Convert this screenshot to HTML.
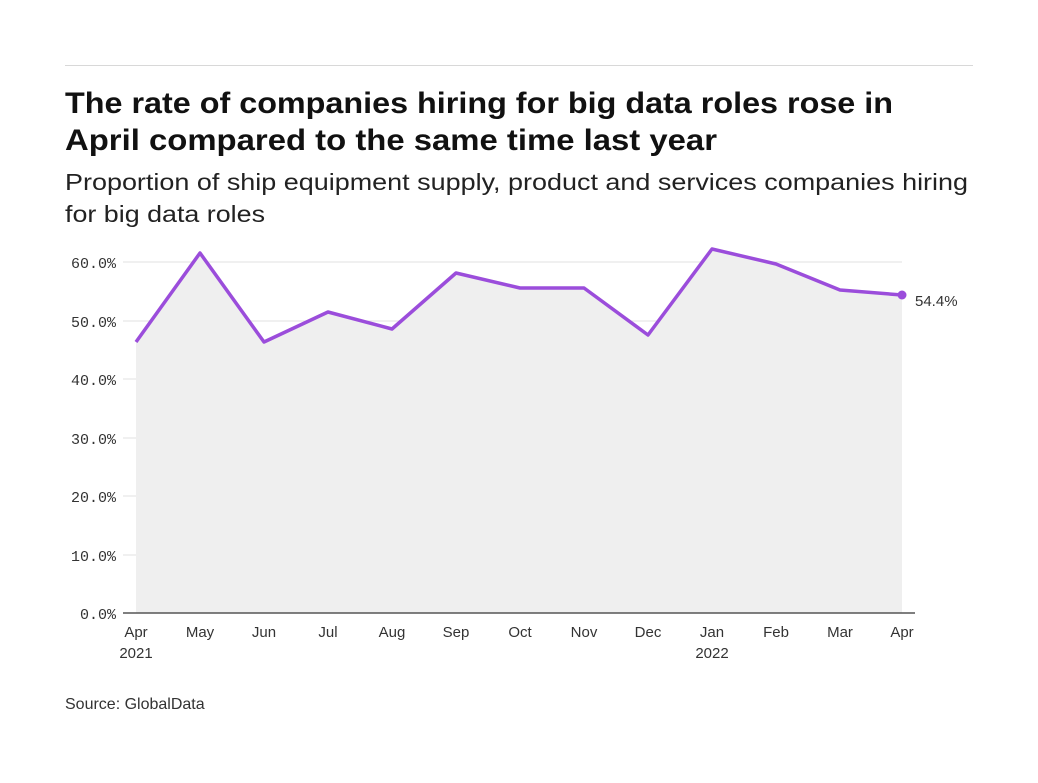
<!DOCTYPE html>
<html><head><meta charset="utf-8"><style>
body{margin:0;background:#fff;width:1038px;height:778px;overflow:hidden;font-family:"Liberation Sans",sans-serif;}
</style></head><body>
<svg width="1038" height="778" xmlns="http://www.w3.org/2000/svg">
<line x1="65" y1="65.5" x2="973" y2="65.5" stroke="#d8d8d8" stroke-width="1"/>
<text x="65" y="113" font-size="30" font-weight="bold" fill="#111" textLength="828" lengthAdjust="spacingAndGlyphs">The rate of companies hiring for big data roles rose in</text>
<text x="65" y="150" font-size="30" font-weight="bold" fill="#111" textLength="652" lengthAdjust="spacingAndGlyphs">April compared to the same time last year</text>
<text x="65" y="190" font-size="23" fill="#222" textLength="903" lengthAdjust="spacingAndGlyphs">Proportion of ship equipment supply, product and services companies hiring</text>
<text x="65" y="222" font-size="23" fill="#222" textLength="200" lengthAdjust="spacingAndGlyphs">for big data roles</text>
<g stroke="#e6e6e6" stroke-width="1.2">
<line x1="123" y1="262" x2="902" y2="262"/><line x1="123" y1="321" x2="902" y2="321"/>
<line x1="123" y1="379" x2="902" y2="379"/><line x1="123" y1="438" x2="902" y2="438"/>
<line x1="123" y1="496" x2="902" y2="496"/><line x1="123" y1="555" x2="902" y2="555"/>
</g>
<g font-family="Liberation Mono,monospace" font-size="15" fill="#333" text-anchor="end">
<text x="116" y="268">60.0%</text><text x="116" y="327">50.0%</text><text x="116" y="385">40.0%</text>
<text x="116" y="444">30.0%</text><text x="116" y="502">20.0%</text><text x="116" y="561">10.0%</text><text x="116" y="619">0.0%</text>
</g>
<polygon fill="#efefef" points="136,613 136,342 200,253 264,342 328,312 392,329 456,273 520,288 584,288 648,335 712,249 776,264 840,290 902,295 902,613"/>
<polyline fill="none" stroke="#9b4ddb" stroke-width="3.5" stroke-linejoin="round" points="136,342 200,253 264,342 328,312 392,329 456,273 520,288 584,288 648,335 712,249 776,264 840,290 902,295"/>
<circle cx="902" cy="295" r="4.5" fill="#9b4ddb"/>
<text x="915" y="306" font-size="15" fill="#333">54.4%</text>
<line x1="123" y1="613" x2="915" y2="613" stroke="#555" stroke-width="1.5"/>
<g font-size="15" fill="#333" text-anchor="middle">
<text x="136" y="637">Apr</text><text x="136" y="658">2021</text>
<text x="200" y="637">May</text><text x="264" y="637">Jun</text><text x="328" y="637">Jul</text>
<text x="392" y="637">Aug</text><text x="456" y="637">Sep</text><text x="520" y="637">Oct</text>
<text x="584" y="637">Nov</text><text x="648" y="637">Dec</text>
<text x="712" y="637">Jan</text><text x="712" y="658">2022</text>
<text x="776" y="637">Feb</text><text x="840" y="637">Mar</text><text x="902" y="637">Apr</text>
</g>
<text x="65" y="709" font-size="16" fill="#333">Source: GlobalData</text>
</svg>
</body></html>
